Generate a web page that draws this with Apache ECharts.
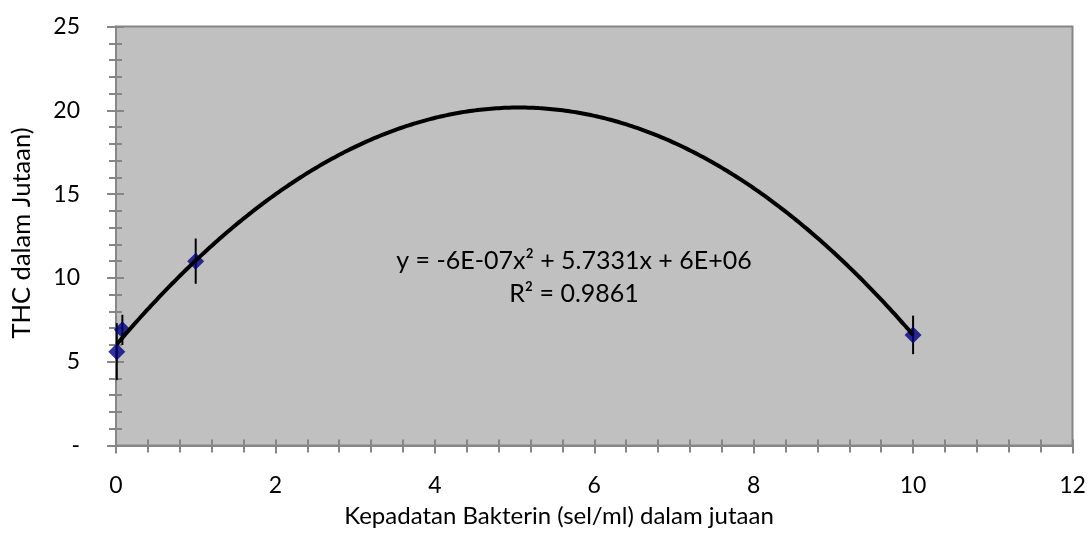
<!DOCTYPE html>
<html>
<head>
<meta charset="utf-8">
<script src="https://cdn.jsdelivr.net/npm/echarts@6/dist/echarts.min.js"></script>
<style>
html,body{margin:0;padding:0;background:#fff;}
#chart{width:1092px;height:536px;}
</style>
</head>
<body>
<div id="chart"></div>
<script>
// ---- data ----
const xValues = [0.01, 0.08, 1, 10];      // bacterial density (millions)
const yValues = [5.6, 6.9, 11.0, 6.6];    // THC (millions)
const yErrors = [1.7, 0.9, 1.35, 1.15];   // error bar half-lengths
const xTicks = [0, 2, 4, 6, 8, 10, 12];
const yTicks = [0, 5, 10, 15, 20, 25];
const trendLabels = ['y = -6E-07x\u00B2 + 5.7331x + 6E+06', 'R\u00B2 = 0.9861'];
const xTitle = 'Kepadatan Bakterin (sel/ml) dalam jutaan';
const yTitle = 'THC dalam Jutaan)';

// ---- polynomial (order 2) least-squares trendline, as the original chart ----
function quadFit(xs, ys) {
  let S = [0,0,0,0,0], T = [0,0,0];
  for (let i = 0; i < xs.length; i++) {
    let p = 1;
    for (let k = 0; k < 5; k++) { S[k] += p; if (k < 3) T[k] += p * ys[i]; p *= xs[i]; }
  }
  const A = [[S[0],S[1],S[2],T[0]],[S[1],S[2],S[3],T[1]],[S[2],S[3],S[4],T[2]]];
  for (let c = 0; c < 3; c++) {
    let piv = c;
    for (let r = c+1; r < 3; r++) if (Math.abs(A[r][c]) > Math.abs(A[piv][c])) piv = r;
    [A[c], A[piv]] = [A[piv], A[c]];
    for (let r = 0; r < 3; r++) {
      if (r === c) continue;
      const f = A[r][c] / A[c][c];
      for (let k = c; k < 4; k++) A[r][k] -= f * A[c][k];
    }
  }
  return [A[0][3]/A[0][0], A[1][3]/A[1][1], A[2][3]/A[2][2]]; // c0, c1, c2
}
const coef = quadFit(xValues, yValues);
const xMin = Math.min(...xValues), xMax = Math.max(...xValues);
const trend = [];
for (let i = 0; i <= 300; i++) {
  const x = xMin + (xMax - xMin) * i / 300;
  trend.push([x, coef[0] + coef[1]*x + coef[2]*x*x]);
}

const points = xValues.map((x, i) => [x, yValues[i]]);
const errData = xValues.map((x, i) => [x, yValues[i] - yErrors[i], yValues[i] + yErrors[i]]);

const FONT = 'Lato';
const AX = '#868686';

const chart = echarts.init(document.getElementById('chart'), null, {renderer: 'canvas'});
const baseX = {
  type: 'value', min: xTicks[0], max: xTicks[xTicks.length-1], interval: 2,
  splitLine: {show: false}
};
const baseY = {
  type: 'value', min: yTicks[0], max: yTicks[yTicks.length-1], interval: 5,
  splitLine: {show: false}
};
chart.setOption({
  animation: false,
  backgroundColor: '#ffffff',
  grid: {
    left: 116, right: 19.5, top: 26.5, bottom: 90.5,
    show: true, backgroundColor: '#C0C0C0', borderColor: AX, borderWidth: 2
  },
  xAxis: [
    Object.assign({}, baseX, {
      position: 'bottom',
      axisLine: {show: true, lineStyle: {color: AX, width: 2}},
      axisTick: {show: true, length: 8, lineStyle: {color: AX, width: 2}},
      minorTick: {show: true, splitNumber: 5, length: 7, lineStyle: {color: AX, width: 2}},
      axisLabel: {fontFamily: FONT, fontSize: 23, color: '#000', margin: 29}
    }),
    Object.assign({}, baseX, {
      position: 'bottom', offset: 0,
      axisLine: {show: false},
      axisTick: {show: true, inside: true, length: 6, lineStyle: {color: AX, width: 2}},
      minorTick: {show: true, splitNumber: 5, length: 6, lineStyle: {color: AX, width: 2}},
      axisLabel: {show: false}
    })
  ],
  yAxis: [
    Object.assign({}, baseY, {
      position: 'left',
      axisLine: {show: true, lineStyle: {color: AX, width: 2}},
      axisTick: {show: true, length: 9, lineStyle: {color: AX, width: 2}},
      minorTick: {show: true, splitNumber: 5, length: 7, lineStyle: {color: AX, width: 2}},
      axisLabel: {
        fontFamily: FONT, fontSize: 23, color: '#000', margin: 36,
        formatter: v => (v === 0 ? '-' : String(v))
      }
    }),
    Object.assign({}, baseY, {
      position: 'left', offset: 0,
      axisLine: {show: false},
      axisTick: {show: true, inside: true, length: 8, lineStyle: {color: AX, width: 2}},
      minorTick: {show: true, splitNumber: 5, length: 6, lineStyle: {color: AX, width: 2}},
      axisLabel: {show: false}
    })
  ],
  graphic: [
    {type: 'text', x: 559, y: 516, style: {text: xTitle, fontFamily: FONT, fontSize: 24, fill: '#000', textAlign: 'center', textVerticalAlign: 'middle'}},
    {type: 'text', x: 22, y: 233, rotation: Math.PI/2, style: {text: yTitle, fontFamily: FONT, fontSize: 25.5, fill: '#000', textAlign: 'center', textVerticalAlign: 'middle'}},
    {type: 'text', x: 574, y: 261, z: 100, style: {text: trendLabels[0], fontFamily: FONT, fontSize: 25, fill: '#000', textAlign: 'center', textVerticalAlign: 'middle'}},
    {type: 'text', x: 574, y: 294, z: 100, style: {text: trendLabels[1], fontFamily: FONT, fontSize: 25, fill: '#000', textAlign: 'center', textVerticalAlign: 'middle'}}
  ],
  series: [
    {
      type: 'custom', name: 'error', z: 2,
      renderItem: function (params, api) {
        const top = api.coord([api.value(0), api.value(2)]);
        const bot = api.coord([api.value(0), api.value(1)]);
        return {type: 'line', shape: {x1: top[0], y1: top[1], x2: bot[0], y2: bot[1]}, style: {stroke: '#000', lineWidth: 2}};
      },
      encode: {x: 0, y: [1, 2]},
      data: errData
    },
    {
      type: 'scatter', name: 'THC', z: 3,
      symbol: 'diamond', symbolSize: [17, 17],
      itemStyle: {color: '#000080'},
      data: points
    },
    {
      type: 'line', name: 'trend', z: 4,
      showSymbol: false, smooth: false,
      lineStyle: {color: '#000', width: 4},
      data: trend
    }
  ]
});
</script>
</body>
</html>
